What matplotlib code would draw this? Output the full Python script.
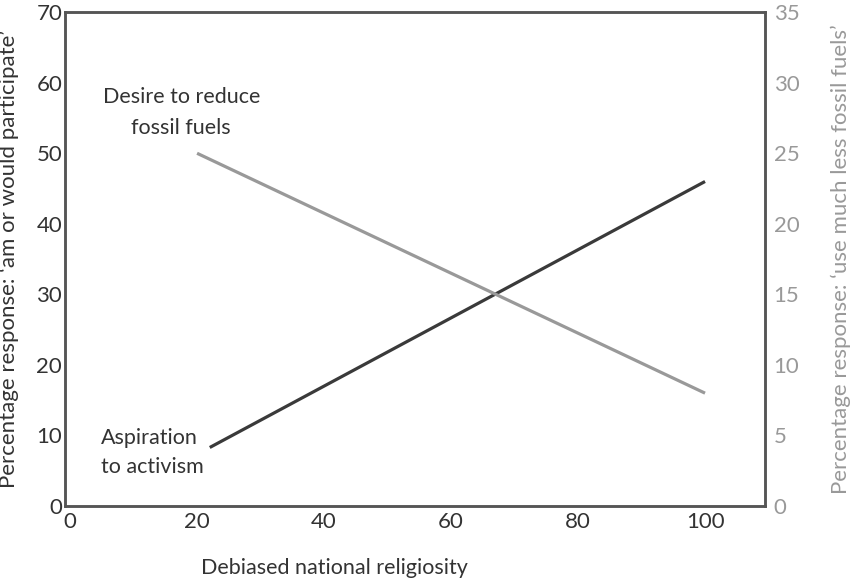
import matplotlib.pyplot as plt

plt.rcParams['font.family'] = ['Lato', 'DejaVu Sans']

# Data
religiosity = [22, 100]
activism = [8.3, 46]          # left axis: 'am or would participate'
religiosity_fuels = [20, 100]
fossil_fuels = [25, 8]        # right axis: 'use much less fossil fuels'

x_ticks = [0, 20, 40, 60, 80, 100]
left_ticks = [0, 10, 20, 30, 40, 50, 60, 70]
right_ticks = [0, 5, 10, 15, 20, 25, 30, 35]

dark = '#3a3a3a'
grey = '#999999'
spine_col = '#555555'
text_col = '#333333'
fs = 15.5

fig = plt.figure(figsize=(8.52, 5.79), dpi=100)
ax = fig.add_axes([0.0763, 0.126, 0.822, 0.853])
ax2 = ax.twinx()

ax.plot(religiosity, activism, color=dark, linewidth=2.3, solid_capstyle='butt')
ax2.plot(religiosity_fuels, fossil_fuels, color=grey, linewidth=2.3, solid_capstyle='butt')

ax.set_xlim(-0.8, 109.5)
ax.set_ylim(0, 70)
ax2.set_ylim(0, 35)

ax.set_xticks(x_ticks)
ax.set_yticks(left_ticks)
ax2.set_yticks(right_ticks)

ax.tick_params(axis='both', length=0, labelsize=16, labelcolor=text_col)
ax.tick_params(axis='x', pad=4)
ax.tick_params(axis='y', pad=2)
ax2.tick_params(axis='y', length=0, labelsize=16, labelcolor=grey, pad=6)

for a in (ax, ax2):
    for s in a.spines.values():
        s.set_color(spine_col)
        s.set_linewidth(1.8)

ax.set_xlabel('Debiased national religiosity', fontsize=fs, color=text_col)
ax.xaxis.set_label_coords(0.384, -0.105)
ax.set_ylabel("Percentage response: \u2018am or would participate\u2019", fontsize=16,
              color=text_col)
ax.yaxis.set_label_coords(-0.066, 0.5)
ax2.set_ylabel("Percentage response: \u2018use much less fossil fuels\u2019", fontsize=16,
               color=grey)
ax2.yaxis.set_label_coords(1.093, 0.5)

ax.text(17.5, 55.8, 'Desire to reduce\nfossil fuels', ha='center', va='center',
        fontsize=fs, color=text_col, linespacing=1.65)
ax.text(4.9, 7.6, 'Aspiration\nto activism', ha='left', va='center',
        fontsize=fs, color=text_col, linespacing=1.55)

fig.savefig('out.png', dpi=100)
